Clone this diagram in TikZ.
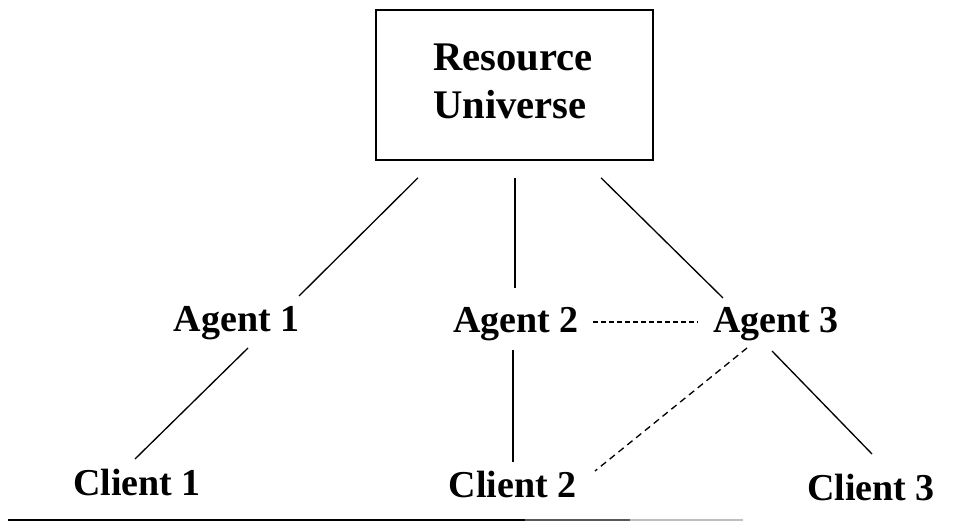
\documentclass[tikz,border=0pt]{standalone}
\usepackage{fontspec}
\setmainfont{Liberation Serif}
\usetikzlibrary{calc}
\tikzset{
  lbl/.style={font=\fontsize{28.5pt}{36pt}\selectfont\bfseries, inner sep=0pt, anchor=base},
  rbox/.style={draw, line width=1.2pt, minimum width=207.75pt, minimum height=112.5pt, inner sep=0pt},
  boxtxt/.style={align=center, inner sep=0pt, anchor=base, font=\fontsize{30.5pt}{36pt}\selectfont\bfseries},
  conn/.style={line width=1pt},
  dconn/.style={line width=1pt, dash pattern=on 3.4pt off 2.6pt},
  ddconn/.style={line width=1pt, dash pattern=on 5pt off 3.5pt},
}
\begin{document}
\begin{tikzpicture}[x=0.75pt,y=-0.75pt]
\useasboundingbox (0,0) rectangle (980,523);
\node[rbox] (box) at (514.5,85) {};
\node[boxtxt] (t1) at (513,71) {Resource};
\node[boxtxt] (t2) at (510,119) {Universe};
\node[lbl] (a1) at (236.5,332) {Agent 1};
\node[lbl] (a2) at (516,333) {Agent 2};
\node[lbl] (a3) at (776,333) {Agent 3};
\node[lbl] (c1) at (137,495) {Client 1};
\node[lbl] (c2) at (512.5,497) {Client 2};
\node[lbl] (c3) at (871,500) {Client 3};
% box to agents
\draw[conn] ($(box.south)+(-96.5,17)$) -- ($(a1.base)+(62.5,-36)$);
\draw[conn] ($(box.south)+(0.5,17)$) -- ($(a2.base)+(-1,-45)$);
\draw[conn] ($(box.south)+(86.5,17)$) -- ($(a3.base)+(-53,-35)$);
% agent 2 -- agent 3
\draw[dconn] ($(a2.base)+(77,-11)$) -- ($(a3.base)+(-78,-11)$);
% agents to clients
\draw[conn] ($(a1.base)+(11.5,16)$) -- ($(c1.base)+(-2,-36)$);
\draw[conn] ($(a2.base)+(-3,17)$) -- ($(c2.base)+(0.5,-35)$);
\draw[ddconn] ($(a3.base)+(-29,15)$) -- ($(c2.base)+(82.5,-26)$);
\draw[conn] ($(a3.base)+(-4,18)$) -- ($(c3.base)+(1,-46)$);
% bottom rule
\draw[line width=1.6pt] (8,520) -- (525,520);
\draw[line width=1.4pt, black!65] (525,520) -- (630,520);
\draw[line width=1.2pt, black!25] (630,520) -- (743,520);
\end{tikzpicture}
\end{document}
